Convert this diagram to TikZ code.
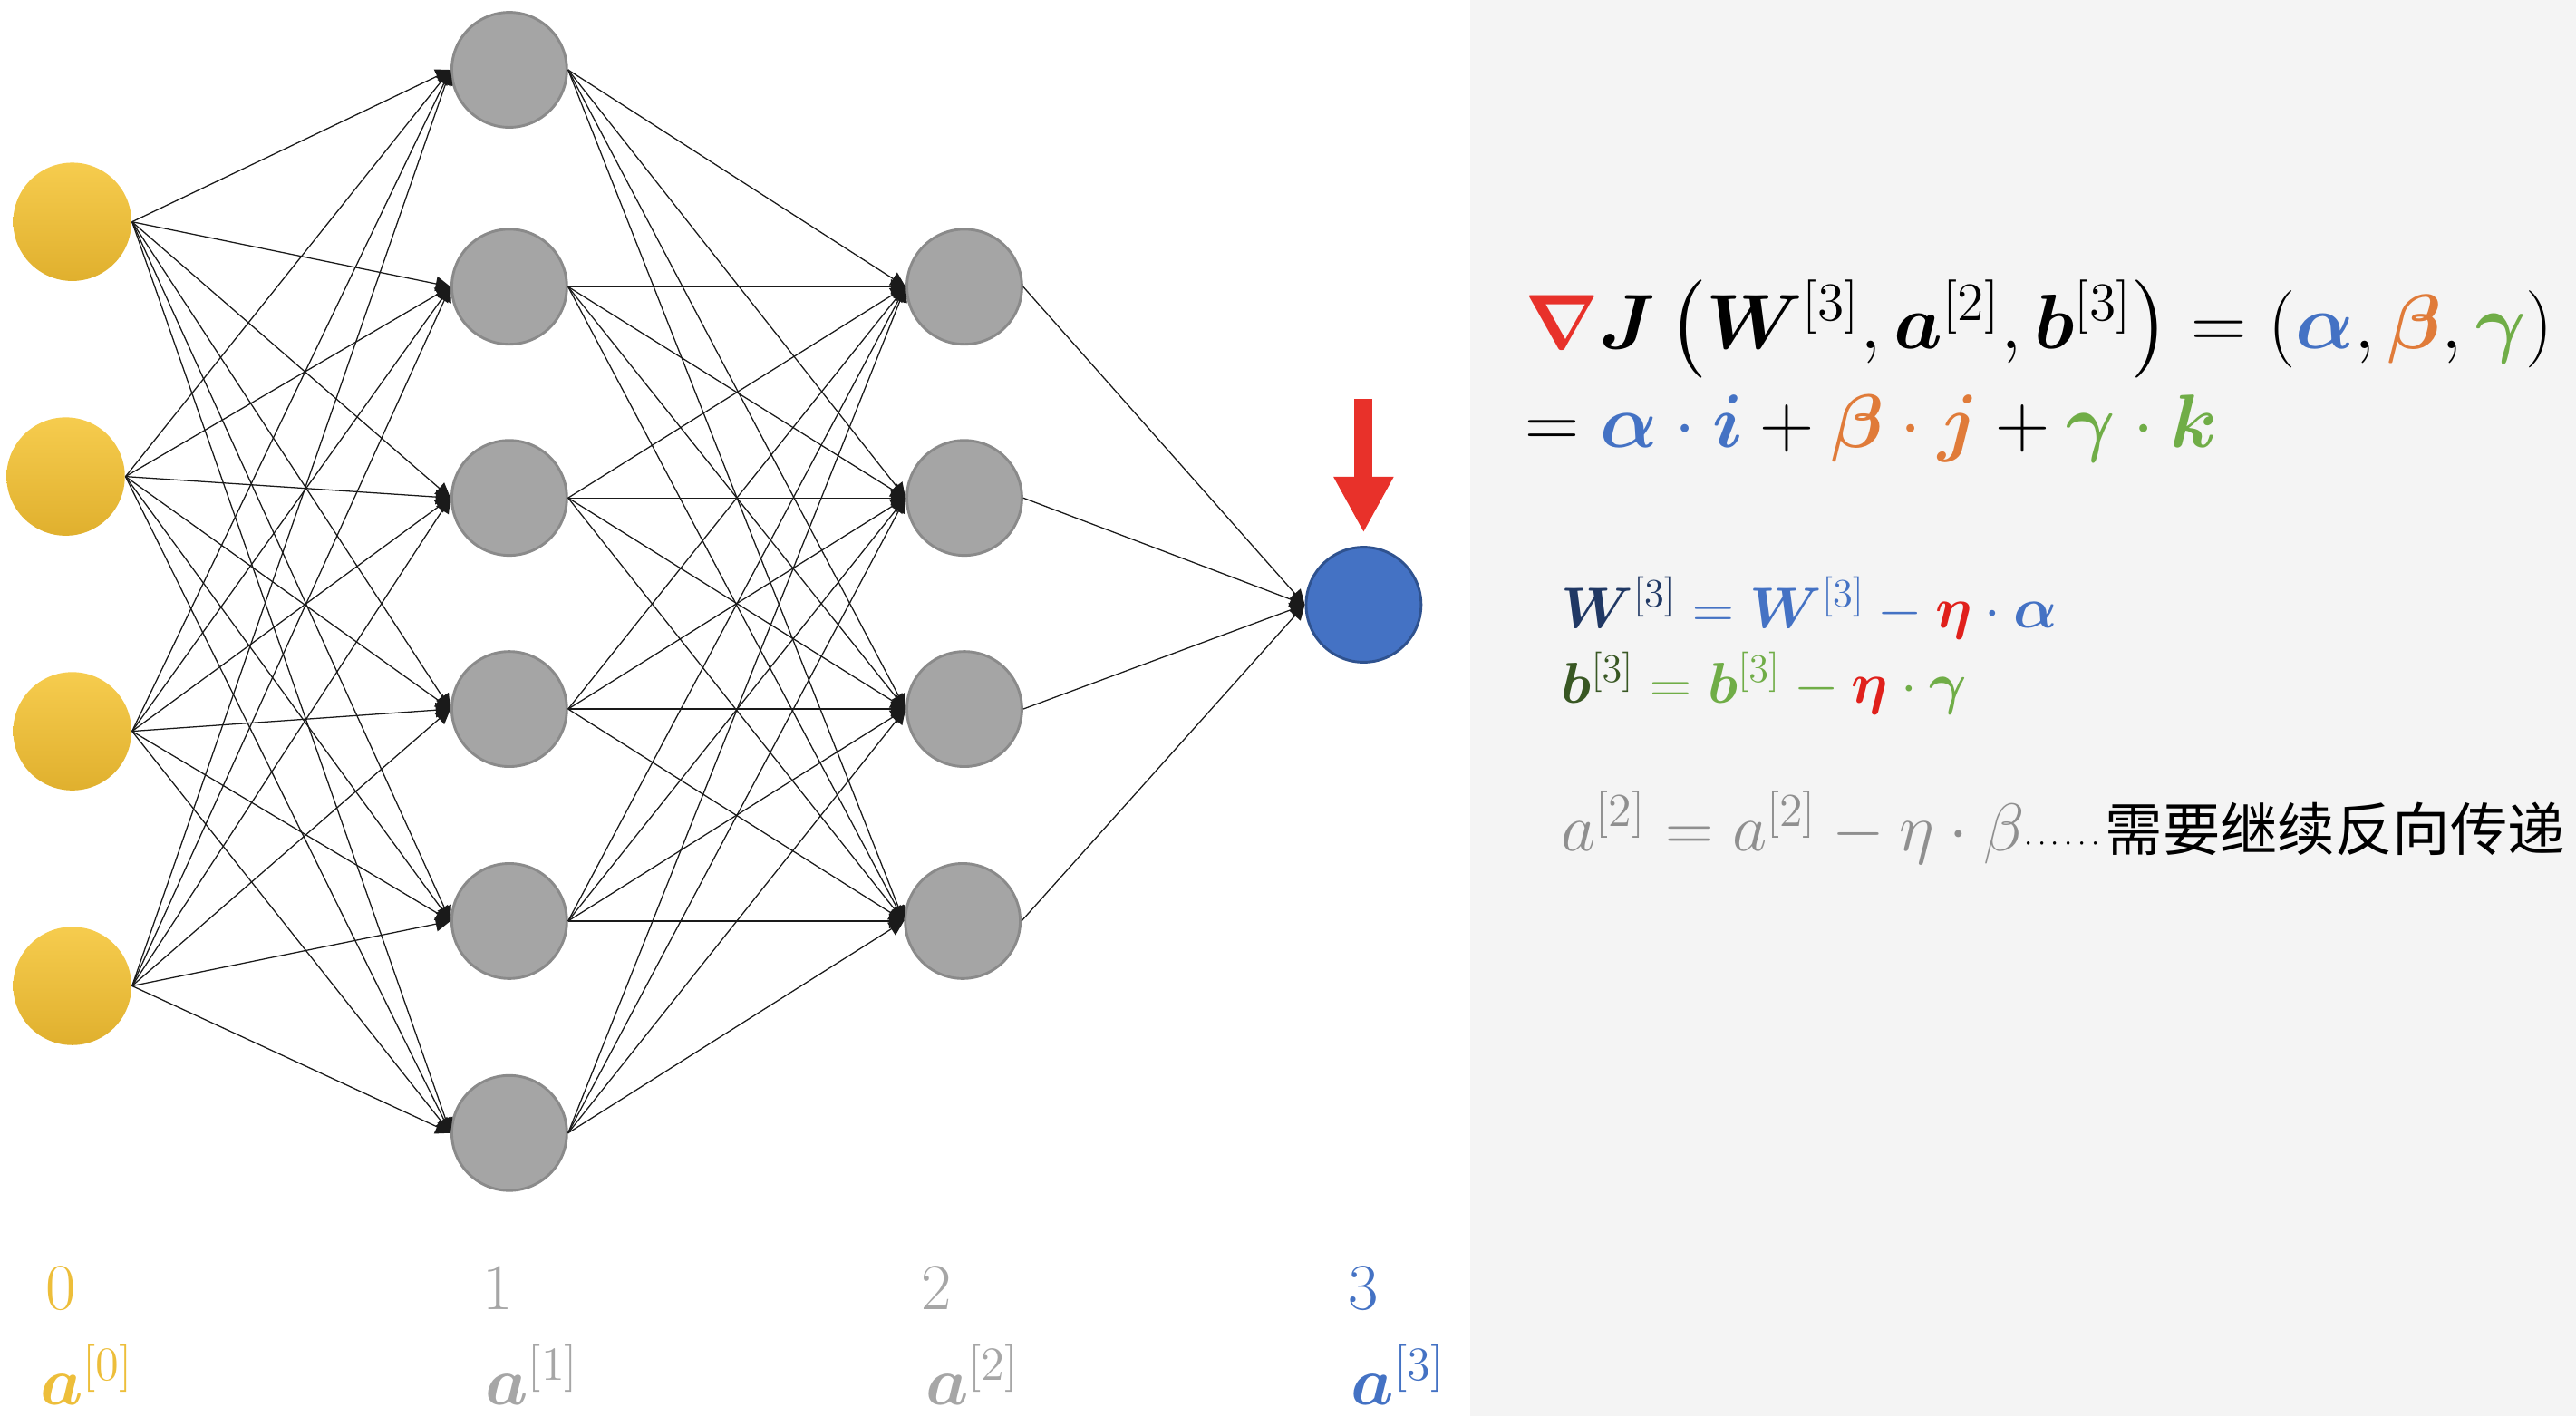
\RequirePackage{fix-cm}
\documentclass[tikz,border=0pt]{standalone}
\usepackage{amsmath,bm}
\usepackage{fontspec}
\newfontfamily\cjk{Noto Sans CJK SC}
\usetikzlibrary{arrows.meta}
\definecolor{ink}{HTML}{1A1A1A}
\definecolor{panel}{HTML}{F4F4F4}
\definecolor{inptop}{HTML}{F6CC4E}
\definecolor{inpbot}{HTML}{E0B02E}
\definecolor{hidfill}{HTML}{A5A5A5}
\definecolor{hidedge}{HTML}{8A8A8A}
\definecolor{outfill}{HTML}{4472C4}
\definecolor{outedge}{HTML}{2F528F}
\definecolor{markred}{HTML}{E8312A}
\definecolor{fblue}{HTML}{4472C4}
\definecolor{forange}{HTML}{E07B39}
\definecolor{fgreen}{HTML}{70AD47}
\definecolor{wnavy}{HTML}{203864}
\definecolor{bgreen}{HTML}{385723}
\definecolor{etared}{HTML}{E0201B}
\definecolor{lyrgold}{HTML}{EDBE3A}
\definecolor{lyrgray}{HTML}{A6A6A6}
\definecolor{agray}{HTML}{8F8F8F}

\begin{document}
\begin{tikzpicture}[
  x=0.5pt, y=-0.5pt,
  inp/.style={circle, inner sep=0pt, minimum size=36pt, top color=inptop, bottom color=inpbot, draw=none},
  hid/.style={circle, inner sep=0pt, minimum size=35pt, fill=hidfill, draw=hidedge, line width=0.8pt},
  outn/.style={hid, fill=outfill, draw=outedge},
  wire/.style={-{Triangle[length=4.5pt, width=4.5pt]}, line width=0.35pt, draw=ink},
  markarrow/.style={-{Triangle[length=17pt, width=17pt]}, line width=5.5pt, draw=markred, shorten >=4pt},
  lyr/.style={anchor=base, inner sep=0pt, font=\fontsize{20}{24}\selectfont},
  act/.style={anchor=base west, inner sep=0pt, font=\fontsize{20.7}{25}\selectfont},
  eq/.style={anchor=base west, inner sep=0pt, font=\fontsize{23.5}{28}\selectfont},
  upd/.style={anchor=base west, inner sep=0pt, font=\fontsize{17.5}{21}\selectfont}
]
\useasboundingbox (0,0) rectangle (1568,862);
\fill[white] (0,0) rectangle (895,862);
\fill[panel] (895,0) rectangle (1568,862);

% layers
\node[inp] (in1) at (44,135) {};
\node[inp] (in2) at (40,290) {};
\node[inp] (in3) at (44,445) {};
\node[inp] (in4) at (44,600) {};

\node[hid] (hid1) at (310,42.5) {};
\node[hid] (hid2) at (310,174.5) {};
\node[hid] (hid3) at (310,303) {};
\node[hid] (hid4) at (310,431.5) {};
\node[hid] (hid5) at (310,560.5) {};
\node[hid] (hid6) at (310,689.5) {};

\node[hid] (mid1) at (587,174.5) {};
\node[hid] (mid2) at (587,303) {};
\node[hid] (mid3) at (587,431.5) {};
\node[hid] (mid4) at (586,560.5) {};

\node[outn] (out) at (830,368) {};

\foreach \s in {1,...,4}
  \foreach \t in {1,...,6}
    \draw[wire] (in\s.east) -- (hid\t.west);
\foreach \s in {1,...,6}
  \foreach \t in {1,...,4}
    \draw[wire] (hid\s.east) -- (mid\t.west);
\foreach \s in {1,...,4}
  \draw[wire] (mid\s.east) -- (out.west);

\coordinate (marktop) at (830,243);
\draw[markarrow] (marktop) -- (out.north);

% layer labels
\node[lyr, text=lyrgold] (n0) at (37,797) {0};
\node[lyr, text=lyrgray] (n1) at (303,797) {1};
\node[lyr, text=lyrgray] (n2) at (570,797) {2};
\node[lyr, text=fblue] (n3) at (830,797) {3};
\node[act, text=lyrgold] (a0) at (24,855) {$\bm{a}^{[0]}$};
\node[act, text=lyrgray] (a1) at (295,855) {$\bm{a}^{[1]}$};
\node[act, text=lyrgray] (a2) at (563,855) {$\bm{a}^{[2]}$};
\node[act, text=fblue] (a3) at (822,855) {$\bm{a}^{[3]}$};

% gradient
\node[eq] (grad) at (928,212)
  {$\textcolor{markred}{\bm{\nabla}}\bm{J}\,\bigl(\bm{W}^{[3]},\bm{a}^{[2]},\bm{b}^{[3]}\bigr)
    =(\textcolor{fblue}{\bm{\alpha}},\textcolor{forange}{\bm{\beta}},\textcolor{fgreen}{\bm{\gamma}})$};
\node[eq, font=\fontsize{23}{27}\selectfont] (comp) at (928,272)
  {$=\textcolor{fblue}{\bm{\alpha}\cdot\bm{i}}+\textcolor{forange}{\bm{\beta}\cdot\bm{j}}
    +\textcolor{fgreen}{\bm{\gamma}\cdot\bm{k}}$};

% updates
\node[upd] (updw) at (950,382)
  {$\textcolor{wnavy}{\bm{W}^{[3]}}\mathrel{\textcolor{fblue}{=}}\textcolor{fblue}{\bm{W}^{[3]}}
    \mathbin{\textcolor{fblue}{-}}\textcolor{etared}{\bm{\eta}}\mathbin{\textcolor{fblue}{\cdot}}\textcolor{fblue}{\bm{\alpha}}$};
\node[upd] (updb) at (950,428)
  {$\textcolor{bgreen}{\bm{b}^{[3]}}\mathrel{\textcolor{fgreen}{=}}\textcolor{fgreen}{\bm{b}^{[3]}}
    \mathbin{\textcolor{fgreen}{-}}\textcolor{etared}{\bm{\eta}}\mathbin{\textcolor{fgreen}{\cdot}}\textcolor{fgreen}{\bm{\gamma}}$};
\node[upd] (upda) at (950,518)
  {\textcolor{agray}{\fontsize{20.5}{24}\selectfont$a^{[2]}=a^{[2]}-\eta\cdot\beta$}%
   {\fontsize{9}{11}\selectfont$\cdots\cdots$}{\fontsize{17.5}{21}\selectfont\cjk 需要继续反向传递}};
\end{tikzpicture}
\end{document}
